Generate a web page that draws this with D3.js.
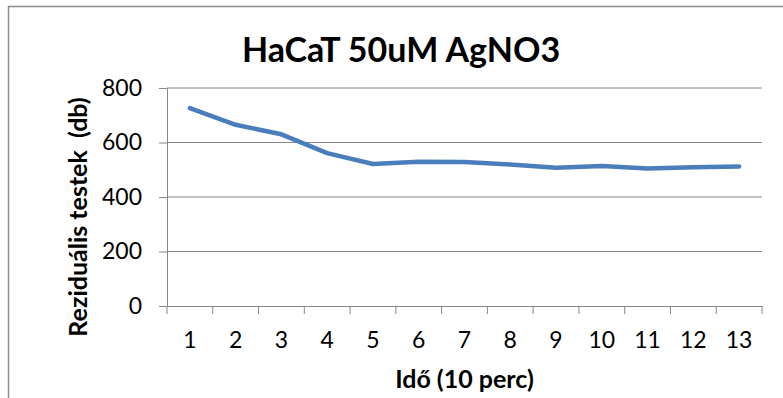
<!DOCTYPE html>
<html>
<head>
<meta charset="utf-8">
<script src="https://d3js.org/d3.v7.min.js"></script>
<style>
body { margin: 0; background: #fff; }
text { font-family: Lato, "Open Sans", sans-serif; fill: #000; white-space: pre; }
</style>
</head>
<body>
<script>
var categories = ["1","2","3","4","5","6","7","8","9","10","11","12","13"];
var values = [726, 665, 630, 561, 521, 529, 528, 519, 507, 514, 505, 509, 512];
var yTicks = [0, 200, 400, 600, 800];
var chartTitle = "HaCaT 50uM AgNO3";
var xTitle = "Idő (10 perc)";
var yTitle = "Reziduális testek  (db)";

var w = 783, h = 398;
var pLeft = 167, pRight = 762, pTop = 88, pBottom = 306;

var svg = d3.select("body").append("svg")
	.attr("width", w)
	.attr("height", h);

// outer frame of the chart area (runs off the picture on right and bottom)
svg.append("rect")
	.attr("x", 8.5)
	.attr("y", 6.5)
	.attr("width", w + 20)
	.attr("height", h + 20)
	.attr("fill", "none")
	.attr("stroke", "#8c8c8c")
	.attr("stroke-width", 1.5);

var x = d3.scaleBand().domain(categories).range([pLeft, pRight]);
var y = d3.scaleLinear().domain([0, 800]).range([pBottom, pTop]);

// gridlines
svg.append("g")
	.selectAll("line")
	.data(yTicks.slice(1))
	.enter()
	.append("line")
	.attr("x1", pLeft)
	.attr("x2", pRight)
	.attr("y1", function(d){return y(d);})
	.attr("y2", function(d){return y(d);})
	.attr("stroke", "#868686")
	.attr("stroke-width", 1);

var yAxis = svg.append("g")
	.attr("transform", "translate(" + pLeft + ",0)")
	.call(d3.axisLeft(y).tickValues(yTicks).tickSize(8).tickSizeOuter(0).tickPadding(17));

var xAxis = svg.append("g")
	.attr("transform", "translate(0," + pBottom + ")")
	.call(d3.axisBottom(x).tickSize(0).tickPadding(26));

// category boundary ticks
var bounds = categories.map(function(c){return x(c);}).concat([pRight]);
xAxis.selectAll(".bound")
	.data(bounds)
	.enter()
	.append("line")
	.attr("class", "bound")
	.attr("x1", function(d){return d;})
	.attr("x2", function(d){return d;})
	.attr("y1", 0)
	.attr("y2", 8)
	.attr("stroke", "#868686");

svg.selectAll(".domain, .tick line")
	.attr("stroke", "#868686");
svg.selectAll(".tick text")
	.style("font-size", "23px")
	.attr("fill", "#000");

var line = d3.line()
	.x(function(d, i){return x(categories[i]) + x.bandwidth() / 2;})
	.y(function(d){return y(d);});

svg.append("path")
	.datum(values)
	.attr("d", line)
	.attr("fill", "none")
	.attr("stroke", "#4a7ebb")
	.attr("stroke-width", 4.5)
	.attr("stroke-linejoin", "round")
	.attr("stroke-linecap", "round");

svg.append("text")
	.attr("x", 401)
	.attr("y", 62)
	.attr("text-anchor", "middle")
	.style("font-size", "34px")
	.style("font-weight", "bold")
	.text(chartTitle);

svg.append("text")
	.attr("x", (pLeft + pRight) / 2)
	.attr("y", 388)
	.attr("text-anchor", "middle")
	.style("font-size", "25px")
	.style("font-weight", "bold")
	.text(xTitle);

svg.append("text")
	.attr("transform", "translate(87," + 217 + ") rotate(-90)")
	.attr("text-anchor", "middle")
	.style("font-size", "25px")
	.style("font-weight", "bold")
	.text(yTitle);
</script>
</body>
</html>
